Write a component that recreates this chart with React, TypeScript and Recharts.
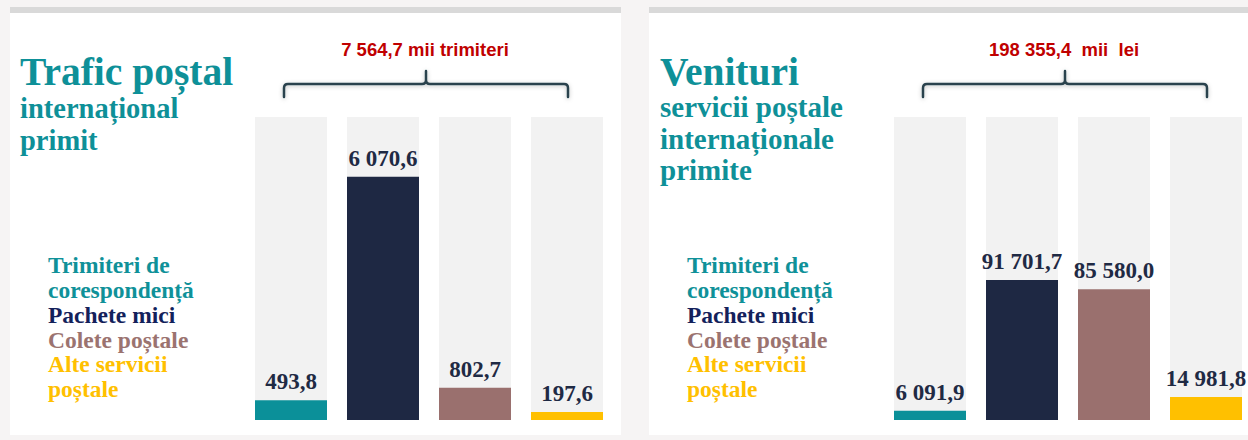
import React from 'react';
import { BarChart, Bar, XAxis, YAxis, Cell, LabelList } from 'recharts';

// ---- data ----
const categories = ['Trimiteri de corespondență', 'Pachete mici', 'Colete poștale', 'Alte servicii poștale'];
const trafficValues = [493.8, 6070.6, 802.7, 197.6];
const revenueValues = [6091.9, 91701.7, 85580.0, 14981.8];
const trafficTotal = 7564.7;
const revenueTotal = 198355.4;
const trafficUnit = ' mii trimiteri';
const revenueUnit = '  mii  lei';
const trafficTitle = ['Trafic poștal', 'internațional', 'primit'];
const revenueTitle = ['Venituri', 'servicii poștale', 'internaționale', 'primite'];
const legendLines = [['Trimiteri de', 'corespondență'], ['Pachete mici'], ['Colete poștale'], ['Alte servicii', 'poștale']];

// ---- styles ----
const barColors = ['#0b9099', '#1e2843', '#9a706e', '#ffc000'];
const legendColors = ['#0f9199', '#13215b', '#9b7370', '#ffc000'];
const TEAL = '#0e9098';
const SERIF = '"Liberation Serif", "Times New Roman", serif';
const SANS = '"Liberation Sans", Arial, sans-serif';

const fmt = (v: any) => {
  const n = Number(v);
  const [i, d] = n.toFixed(1).split('.');
  return i.replace(/\B(?=(\d{3})+(?!\d))/g, ' ') + ',' + d;
};

const trafficData = categories.map((name, i) => ({ name, value: trafficValues[i] }));
const revenueData = categories.map((name, i) => ({ name, value: revenueValues[i] }));

function Chart({ data, total, left }: { data: any[]; total: number; left: number }) {
  return (
    <div style={{ position: 'absolute', left, top: 96 }}>
      <BarChart width={368} height={324} data={data} margin={{ top: 21, right: 0, bottom: 0, left: 0 }}>
        <XAxis dataKey="name" hide />
        <YAxis hide domain={[0, total]} allowDataOverflow />
        <Bar dataKey="value" barSize={72} background={{ fill: '#f2f2f2' }} isAnimationActive={false}>
          {data.map((_, i) => (
            <Cell key={i} fill={barColors[i]} />
          ))}
          <LabelList
            dataKey="value"
            position="top"
            offset={11}
            formatter={fmt}
            fill="#1f2a44"
            fontFamily={SERIF}
            fontWeight={700}
            fontSize={23}
          />
        </Bar>
      </BarChart>
    </div>
  );
}

function Brace({ x1, x2 }: { x1: number; x2: number }) {
  const cx = (x1 + x2) / 2;
  const y = 84;
  const d = `M${x1},97 L${x1},${y + 4} Q${x1},${y} ${x1 + 4},${y} L${cx - 4},${y} Q${cx},${y} ${cx},${y - 4} L${cx},71 M${cx},${y - 4} Q${cx},${y} ${cx + 4},${y} L${x2 - 4},${y} Q${x2},${y} ${x2},${y + 4} L${x2},97`;
  return <path d={d} fill="none" stroke="#29434d" strokeWidth={2.5} strokeLinecap="round" filter="url(#sh)" />;
}

function Legend({ x }: { x: number }) {
  const baselines = [273, 298, 323, 348, 372, 397];
  let k = 0;
  const out: any[] = [];
  legendLines.forEach((lines, i) => {
    lines.forEach((line) => {
      out.push(
        <text key={`${i}-${k}`} x={x} y={baselines[k]} fill={legendColors[i]} fontFamily={SERIF} fontWeight={700} fontSize={23.5}>
          {line}
        </text>
      );
      k++;
    });
  });
  return <g>{out}</g>;
}

export default function App() {
  return (
    <div style={{ position: 'absolute', left: 0, top: 0, width: 1248, height: 440, overflow: 'hidden', background: '#f6f4f4' }}>
      <div style={{ position: 'absolute', left: 10, top: 7, width: 611, height: 428, background: '#ffffff' }} />
      <div style={{ position: 'absolute', left: 10, top: 7, width: 611, height: 6, background: '#d9d9d9' }} />
      <div style={{ position: 'absolute', left: 649, top: 7, width: 599, height: 428, background: '#ffffff' }} />
      <div style={{ position: 'absolute', left: 649, top: 7, width: 599, height: 6, background: '#d9d9d9' }} />

      <Chart data={trafficData} total={trafficTotal} left={245} />
      <Chart data={revenueData} total={revenueTotal} left={884} />

      <svg width={1248} height={440} style={{ position: 'absolute', left: 0, top: 0, pointerEvents: 'none' }}>
        <defs>
          <filter id="sh" x="-10%" y="-50%" width="120%" height="200%">
            <feDropShadow dx="0" dy="1" stdDeviation="2" floodColor="#000" floodOpacity="0.25" />
          </filter>
        </defs>
        {/* left panel */}
        <text x={20} y={85} fill={TEAL} fontFamily={SERIF} fontWeight={700} fontSize={39.5}>{trafficTitle[0]}</text>
        <text x={20} y={118} fill={TEAL} fontFamily={SERIF} fontWeight={700} fontSize={28.5}>{trafficTitle[1]}</text>
        <text x={20} y={150} fill={TEAL} fontFamily={SERIF} fontWeight={700} fontSize={28.5}>{trafficTitle[2]}</text>
        <text x={425} y={56} textAnchor="middle" fill="#c00000" fontFamily={SANS} fontWeight={700} fontSize={18.5} style={{ whiteSpace: 'pre' }}>
          {fmt(trafficTotal) + trafficUnit}
        </text>
        <Brace x1={284} x2={568} />
        <Legend x={48} />

        {/* right panel */}
        <text x={660} y={85} fill={TEAL} fontFamily={SERIF} fontWeight={700} fontSize={39.5}>{revenueTitle[0]}</text>
        <text x={660} y={117} fill={TEAL} fontFamily={SERIF} fontWeight={700} fontSize={29}>{revenueTitle[1]}</text>
        <text x={660} y={149} fill={TEAL} fontFamily={SERIF} fontWeight={700} fontSize={29}>{revenueTitle[2]}</text>
        <text x={660} y={180} fill={TEAL} fontFamily={SERIF} fontWeight={700} fontSize={29}>{revenueTitle[3]}</text>
        <text x={1064} y={56} textAnchor="middle" fill="#c00000" fontFamily={SANS} fontWeight={700} fontSize={18.5} style={{ whiteSpace: 'pre' }}>
          {fmt(revenueTotal) + revenueUnit}
        </text>
        <Brace x1={923} x2={1207} />
        <Legend x={687} />
      </svg>
    </div>
  );
}
